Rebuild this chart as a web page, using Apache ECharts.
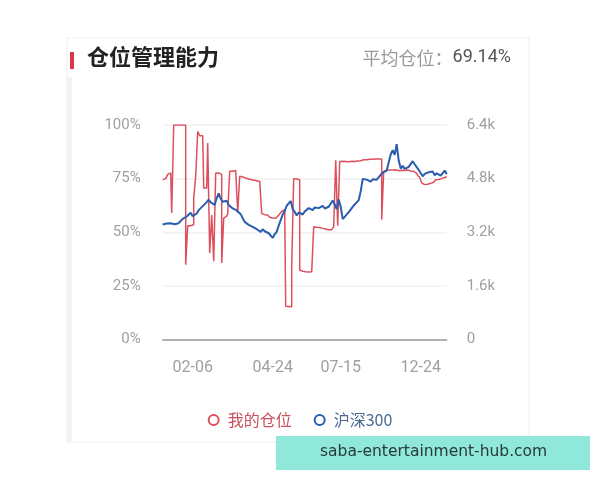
<!DOCTYPE html>
<html>
<head>
<meta charset="utf-8">
<script src="https://cdn.jsdelivr.net/npm/echarts@6/dist/echarts.min.js"></script>
<style>
html,body{margin:0;padding:0;background:#fff;}
#c{width:600px;height:480px;}
</style>
</head>
<body>
<div id="c"></div>
<script>
const seriesNames = ['我的仓位', '沪深300'];
const tickLabels = ['02-06', '04-24', '07-15', '12-24'];
const tickIndex = [15, 55, 89, 129];
const leftTicks = { min: 0, max: 100, interval: 25 };
const rightTicks = { min: 0, max: 6400, interval: 1600 };

// 我的仓位 (%)
const position = [
  74.5, 75, 75.5, 77, 77.6, 59, 100, 100, 100, 100,
  100, 100, 34.9, 53, 53, 53.5, 66, 76, 97, 95,
  95, 70.6, 70.6, 91.6, 40.3, 58, 36.5, 77.6, 77.6, 77,
  35.7, 56.6, 57.5, 58.5, 78.4, 78.4, 78.8, 79.2, 59, 76.1,
  75.8, 75.3, 75, 74.8, 74.5, 74.3, 74.2, 74, 73.7, 73,
  58.8, 58.2, 58, 57.5, 57, 56.6, 56.5, 56.8, 57.5, 58.5,
  59.8, 60.4, 15.5, 15.4, 15.3, 34, 75, 74.8, 74.5, 32.4,
  31.8, 31.6, 31.6, 31.5, 31.6, 32.4, 52.6, 52.3, 52.2, 52,
  51.8, 51.5, 51.3, 51.2, 51.2, 51.8, 52.6, 83.5, 53, 83,
  83.1, 83, 83.3, 82.9, 83.1, 83.4, 83, 83.2, 83.5, 83.3,
  83.8, 84, 83.8, 84, 84.1, 84, 84.2, 84.2, 84.1, 84.2,
  55.9, 78.4, 78.9, 79, 78.8, 79, 79.1, 78.8, 78.7, 78.9,
  79, 78.8, 79, 78.8, 78.6, 78.4, 77.8, 77.5, 76.5, 75.5,
  73, 72.2, 72.4, 72.2, 72.8, 73.3, 74, 74.5, 74.6, 75,
  75.3, 75.5, 75.9
];

// 沪深300 (index points)
const hs300 = [
  3430, 3480, 3460, 3510, 3470, 3500, 3440, 3410, 3470, 3540,
  3600, 3580, 3670, 3720, 3780, 3680, 3720, 3760, 3860, 3900,
  3980, 3970, 4100, 4170, 4090, 4080, 4020, 4220, 4360, 4200,
  4110, 4060, 4140, 4010, 3990, 3910, 3920, 3850, 3840, 3740,
  3620, 3510, 3500, 3420, 3450, 3360, 3390, 3290, 3280, 3210,
  3290, 3230, 3250, 3170, 3200, 3030, 3140, 3210, 3400, 3560,
  3730, 3830, 3990, 4060, 4130, 3890, 3810, 3700, 3790, 3820,
  3730, 3820, 3860, 3920, 3900, 3860, 3940, 3980, 3920, 3950,
  3990, 3910, 3880, 3960, 3990, 4150, 4030, 3890, 4180, 3960,
  3590, 3660, 3700, 3800, 3820, 3960, 4000, 4090, 4160, 4420,
  4790, 4840, 4770, 4790, 4710, 4780, 4830, 4770, 4800, 4910,
  4980, 4960, 5040, 5050, 5520, 5650, 5510, 5830, 5340, 5100,
  5180, 5090, 5060, 5150, 5160, 5320, 5230, 5220, 5060, 5030,
  4870, 4940, 4930, 4990, 4980, 5010, 4900, 4960, 4950, 4890,
  4900, 5040, 4930
];

const categories = position.map((_, i) => 'd' + i);

const FONT = 'Roboto, "Noto Sans CJK SC", sans-serif';
const RED = '#dd4f5c';
const BLUE = '#2a5cb0';

const chart = echarts.init(document.getElementById('c'), null, { renderer: 'canvas' });
chart.setOption({
  animation: false,
  backgroundColor: '#ffffff',
  textStyle: { fontFamily: FONT },
  graphic: [
    { type: 'rect', z: -10, shape: { x: 67, y: 38, width: 462, height: 404 },
      style: { fill: '#ffffff', stroke: '#eeeeee', lineWidth: 1 } },
    { type: 'rect', z: -9, shape: { x: 67, y: 77, width: 5, height: 365 },
      style: { fill: '#f3f3f4' } },
    { type: 'rect', shape: { x: 70, y: 52, width: 4, height: 17 },
      style: { fill: '#d6364f' } },
    { type: 'text', left: 87, top: 46,
      style: { text: '仓位管理能力', fill: '#222222', font: 'bold 22px "Noto Sans CJK SC", sans-serif' } },
    { type: 'text', right: 89, top: 49,
      style: { text: '{a|平均仓位：}{b|69.14%}', rich: {
        a: { fill: '#9a9a9a', fontSize: 18, fontFamily: '"Noto Sans CJK SC", sans-serif' },
        b: { fill: '#555555', fontSize: 18, fontFamily: FONT } } } },
    { type: 'rect', z: 100, shape: { x: 276, y: 436, width: 314, height: 34 },
      style: { fill: '#8fe8d9' } },
    { type: 'text', z: 101, left: 320, top: 444,
      style: { text: 'saba-entertainment-hub.com', fill: '#2a3a3a', font: '15.5px "DejaVu Sans", sans-serif' } }
  ],
  legend: {
    bottom: 47,
    left: 'center',
    icon: 'emptyCircle',
    itemWidth: 10,
    itemHeight: 10,
    itemGap: 22,
    itemStyle: { borderWidth: 2.5 },
    textStyle: { fontSize: 16, fontFamily: '"Noto Sans CJK SC", sans-serif', padding: [0, 0, 0, 4] },
    data: [
      { name: seriesNames[0], textStyle: { color: '#c9505e' } },
      { name: seriesNames[1], textStyle: { color: '#4a6a90' } }
    ]
  },
  grid: { left: 162.7, right: 153.3, top: 125, bottom: 140.5, containLabel: false },
  xAxis: {
    type: 'category',
    boundaryGap: false,
    data: categories,
    axisLine: { lineStyle: { color: '#9a9a9a', width: 1.5 } },
    axisTick: { show: false },
    axisLabel: {
      color: '#a0a0a0', fontSize: 16, margin: 20,
      interval: (i) => tickIndex.indexOf(i) >= 0,
      formatter: (v, i) => { const k = tickIndex.indexOf(i); return k >= 0 ? tickLabels[k] : ''; }
    },
    splitLine: { show: false }
  },
  yAxis: [
    {
      type: 'value', min: leftTicks.min, max: leftTicks.max, interval: leftTicks.interval,
      axisLine: { show: false }, axisTick: { show: false },
      axisLabel: { color: '#a0a0a0', fontSize: 15, margin: 22, formatter: '{value}%' },
      splitLine: { lineStyle: { color: '#f1f1f1', width: 1.5 } }
    },
    {
      type: 'value', min: rightTicks.min, max: rightTicks.max, interval: rightTicks.interval,
      axisLine: { show: false }, axisTick: { show: false },
      axisLabel: { color: '#a0a0a0', fontSize: 15, margin: 20,
        formatter: (v) => v === 0 ? '0' : (v / 1000) + 'k' },
      splitLine: { show: false }
    }
  ],
  series: [
    {
      name: seriesNames[0], type: 'line', yAxisIndex: 0, data: position,
      showSymbol: false, symbol: 'emptyCircle', step: 'middle',
      lineStyle: { color: RED, width: 1.5 }, itemStyle: { color: RED }
    },
    {
      name: seriesNames[1], type: 'line', yAxisIndex: 1, data: hs300,
      showSymbol: false, symbol: 'emptyCircle',
      lineStyle: { color: BLUE, width: 2 }, itemStyle: { color: BLUE }
    }
  ]
});
</script>
</body>
</html>
